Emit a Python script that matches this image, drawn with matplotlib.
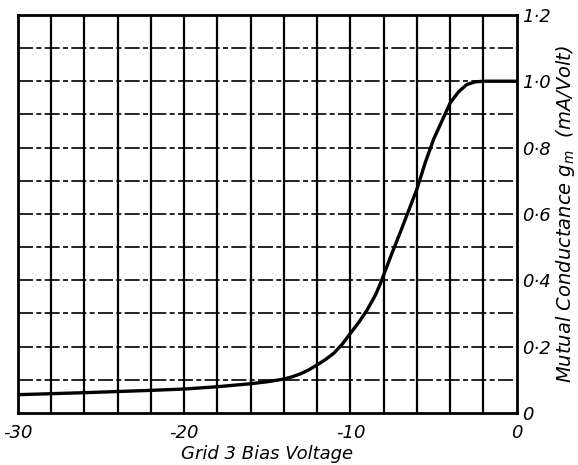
import matplotlib.pyplot as plt
import numpy as np

# grid 3 bias voltage (V) and mutual conductance gm (mA/V)
bias = [-30, -26, -22, -20, -18, -16, -15, -14, -13.5, -13, -12.5, -12,
        -11.5, -11, -10.5, -10, -9.5, -9, -8.5, -8.2, -7.5, -7, -6.5, -6,
        -5.5, -5, -4.5, -4, -3.5, -3, -2.5, -2, -1, 0]
gm = [0.055, 0.061, 0.068, 0.072, 0.079, 0.088, 0.094, 0.102, 0.109, 0.118,
      0.130, 0.145, 0.161, 0.180, 0.207, 0.240, 0.273, 0.310, 0.355, 0.390,
      0.482, 0.545, 0.610, 0.675, 0.755, 0.825, 0.880, 0.935, 0.968, 0.990,
      0.998, 1.0, 1.0, 1.0]

xticks = [-30, -20, -10, 0]
xtick_labels = ['-30', '-20', '-10', '0']
yticks = [0, 0.2, 0.4, 0.6, 0.8, 1.0, 1.2]
ytick_labels = ['0', '0·2', '0·4', '0·6', '0·8', '1·0', '1·2']

plt.rcParams['mathtext.fontset'] = 'dejavusans'

fig = plt.figure(figsize=(5.78, 4.65), dpi=100)
ax = fig.add_axes([0.031, 0.112, 0.863, 0.856])

ax.set_xlim(-30, 0)
ax.set_ylim(0, 1.2)

# vertical grid every 2 V (solid), horizontal every 0.1 (broken dashes)
for xv in np.arange(-28, 0, 2):
    ax.axvline(xv, color='black', lw=1.6, zorder=1)
for yv in np.arange(0.1, 1.2, 0.1):
    ax.axhline(yv, color='black', lw=1.2, ls=(0, (9, 2, 3, 2)), zorder=1)

ax.plot(bias, gm, color='black', lw=2.4, zorder=3, solid_joinstyle='round')

for s in ax.spines.values():
    s.set_linewidth(2)

ax.yaxis.tick_right()
ax.set_xticks(xticks)
ax.set_xticklabels(xtick_labels, fontsize=13, style='italic')
ax.set_yticks(yticks)
ax.set_yticklabels(ytick_labels, fontsize=13, style='italic')
ax.tick_params(length=0, pad=4)
ax.tick_params(axis='x', pad=8)

ax.set_xlabel('Grid 3 Bias Voltage', fontsize=13, style='italic', labelpad=2)
fig.text(0.979, 0.54, 'Mutual Conductance $g_m$  (mA/Volt)', fontsize=14,
         style='italic', rotation=90, ha='center', va='center')

fig.savefig('out.png', dpi=100)
